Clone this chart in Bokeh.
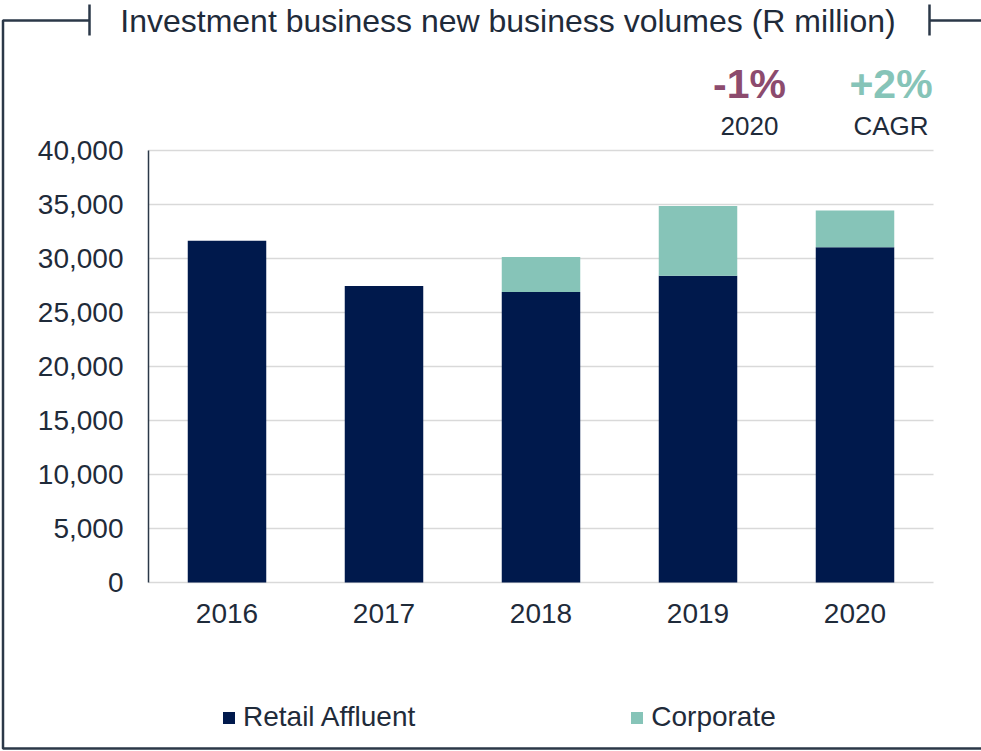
from bokeh.plotting import figure
from bokeh.models import (Range1d, FixedTicker, NumeralTickFormatter, Label, Legend,
                          LegendItem, PolyAnnotation, ColumnDataSource)
from bokeh.core.properties import value
from bokeh.embed import file_html
from bokeh.resources import INLINE

# ---- data ----
years = ["2016", "2017", "2018", "2019", "2020"]
retail_affluent = [31650, 27450, 26900, 28400, 31050]
corporate = [0, 0, 3250, 6450, 3400]
series_names = ["Retail Affluent", "Corporate"]
y_ticks = [0, 5000, 10000, 15000, 20000, 25000, 30000, 35000, 40000]
title_text = "Investment business new business volumes (R million)"
change_value, change_caption = "-1%", "2020"
cagr_value, cagr_caption = "+2%", "CAGR"

# ---- style ----
NAVY = "#00194C"
TEAL = "#86C4B8"
PLUM = "#8C4B6E"
TXT = "#1F2B3A"
FRAME = "#2B3848"
GRID = "#D9D9D9"
FONT = "Liberation Sans"

W, H = 981, 751
# pixel geometry of the plotting area: x 148..933, y(0)=582, 10.8 px per 1000
PX_X = 157.0
PX_Y = 0.0108
X0, Y0 = 148.0, 582.0


def dx(px):
    return (px - X0) / PX_X


def dy(py):
    return (Y0 - py) / PX_Y


xs = [i + 0.5 for i in range(len(years))]
src = ColumnDataSource(dict(x=xs, retail=retail_affluent, corporate=corporate))

p = figure(width=W, height=H, output_backend="svg", toolbar_location=None,
           x_range=Range1d(dx(0), dx(W)), y_range=Range1d(dy(H), dy(0)),
           min_border=0)
p.outline_line_color = None
p.background_fill_color = "white"
p.border_fill_color = "white"

# horizontal gridlines across the category span
p.segment(x0=[0] * len(y_ticks), x1=[len(years)] * len(y_ticks), y0=y_ticks, y1=y_ticks,
          line_color=GRID, line_width=1.5)

rs = p.vbar_stack(["retail", "corporate"], x="x", width=0.5, source=src,
                  fill_color=[NAVY, TEAL], line_color=None)

# axes (fixed inside the full-canvas frame)
p.xaxis.fixed_location = 0
p.xaxis.bounds = (0, len(years))
p.xaxis.ticker = FixedTicker(ticks=xs)
p.xaxis.major_label_overrides = {x: y for x, y in zip(xs, years)}
p.xaxis.axis_line_color = None
p.xaxis.major_tick_line_color = None
p.xaxis.minor_tick_line_color = None
p.xaxis.major_label_standoff = 15
p.xaxis.major_label_text_font = FONT
p.xaxis.major_label_text_font_size = "28px"
p.xaxis.major_label_text_color = TXT

p.yaxis.fixed_location = 0
p.yaxis.bounds = (0, 40000)
p.yaxis.ticker = FixedTicker(ticks=y_ticks)
p.yaxis.formatter = NumeralTickFormatter(format="0,0")
p.yaxis.axis_line_color = FRAME
p.yaxis.axis_line_width = 1.5
p.yaxis.major_tick_out = 0
p.yaxis.major_tick_in = 0
p.yaxis.minor_tick_line_color = None
p.yaxis.major_label_standoff = 25
p.yaxis.major_label_text_font = FONT
p.yaxis.major_label_text_font_size = "28px"
p.yaxis.major_label_text_color = TXT

p.xgrid.grid_line_color = None
p.ygrid.grid_line_color = None

# legend
legend = Legend(items=[LegendItem(label=value(series_names[0]), renderers=[rs[0]]),
                       LegendItem(label=value(series_names[1]), renderers=[rs[1]])],
                orientation="horizontal", location=(221, 18),
                glyph_width=15, glyph_height=15, label_standoff=7, spacing=214,
                padding=0, margin=0, border_line_color=None, background_fill_alpha=0,
                label_text_font=FONT, label_text_font_size="28px",
                label_text_color=TXT)
p.add_layout(legend, "center")

# surrounding frame
L, R, T, B = dx(2.5), dx(995), dy(20), dy(748)
TL, TR = dx(89), dx(929)
p.add_layout(PolyAnnotation(xs=[TL, L, L, R, R, TR, R, R, L, L],
                            ys=[T, T, B, B, T, T, T, B, B, T],
                            fill_alpha=0, line_color=FRAME, line_alpha=1.0,
                            line_width=2.5))
for tx in (TL, TR):
    p.add_layout(PolyAnnotation(xs=[tx, tx], ys=[dy(4), dy(35)], fill_alpha=0,
                                line_color=FRAME, line_alpha=1.0, line_width=2.5))

# title and KPI texts
p.add_layout(Label(x=dx(507.5), y=dy(20.5), text=title_text, text_align="center",
                   text_baseline="middle", text_font=FONT, text_font_size="32px",
                   text_color=TXT))
p.add_layout(Label(x=dx(749), y=dy(83.5), text=change_value, text_align="center",
                   text_baseline="middle", text_font=FONT, text_font_size="41px",
                   text_font_style="bold", text_color=PLUM))
p.add_layout(Label(x=dx(749), y=dy(125.5), text=change_caption, text_align="center",
                   text_baseline="middle", text_font=FONT, text_font_size="26px",
                   text_color=TXT))
p.add_layout(Label(x=dx(890.5), y=dy(83.5), text=cagr_value, text_align="center",
                   text_baseline="middle", text_font=FONT, text_font_size="41px",
                   text_font_style="bold", text_color=TEAL))
p.add_layout(Label(x=dx(890.5), y=dy(125.5), text=cagr_caption, text_align="center",
                   text_baseline="middle", text_font=FONT, text_font_size="26px",
                   text_color=TXT))

open("out.html", "w").write(file_html(p, INLINE))
